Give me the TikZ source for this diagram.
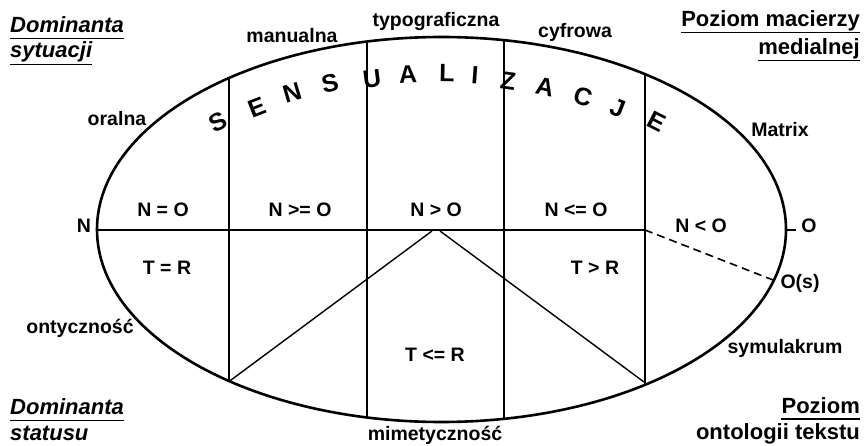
\documentclass[tikz,border=0pt]{standalone}
\usepackage{fontspec}
\setmainfont{Liberation Sans}
\begin{document}
\begin{tikzpicture}[x=1pt,y=-1pt,
  lbl/.style={font=\fontsize{19.5}{22}\selectfont\bfseries, inner sep=0pt, anchor=base},
  corner/.style={font=\fontsize{22}{24}\selectfont\bfseries, inner sep=0pt},
  cornerit/.style={font=\fontsize{22}{24}\selectfont\bfseries\itshape, inner sep=0pt},
  arcletter/.style={font=\fontsize{25}{26}\selectfont\bfseries, inner sep=0pt},
  ulline/.style={line width=1.6pt},
  frame/.style={line width=2.6pt},
  divider/.style={line width=1.6pt},
  diag/.style={line width=1.4pt},
  dashline/.style={line width=1.6pt, dash pattern=on 8pt off 5pt}]
\fill[white] (0,0) rectangle (864,446);
\useasboundingbox (0,0) rectangle (864,446);

% ellipse
\draw[frame] (441.5,229.5) ellipse [x radius=344.5, y radius=192.5];

% coordinates
\coordinate (L) at (97,230);
\coordinate (R) at (786,230);
\coordinate (Rend) at (796,230);
\coordinate (hm) at (645,230);
\coordinate (v1t) at (229,78);   \coordinate (v1b) at (229,381.5);
\coordinate (v2t) at (367,41.6); \coordinate (v2b) at (367,417.4);
\coordinate (v3t) at (504,40.2); \coordinate (v3b) at (504,418.8);
\coordinate (v4t) at (645,74.2); \coordinate (v4b) at (645,384.8);
\coordinate (apL) at (432,231);
\coordinate (apR) at (440,231);
\coordinate (dR) at (644,382);
\coordinate (os) at (773,280);

% dividers
\draw[divider] (v1t) -- (v1b);
\draw[divider] (v2t) -- (v2b);
\draw[divider] (v3t) -- (v3b);
\draw[divider] (v4t) -- (v4b);
\draw[divider] (L) -- (hm);
\draw[divider] (R) -- (Rend);
\draw[diag] (v1b) -- (apL);
\draw[diag] (apR) -- (dR);
\draw[dashline] (hm) -- (os);

% arc letters
\foreach \ch/\px/\py/\rr [count=\i] in {S/218/122/27, E/257/107/21, N/292/93/16.3, S/330/83/12.0, U/372/79/7.2, A/408/74/3.2, L/447/73/-1.1, I/475/75/-4.2, Z/508/81/-7.9, A/545/87/-12.1, C/583/97/-16.5, J/618/108/-21, E/657/122/-27}
  \node[arcletter, rotate=\rr] (let\i) at (\px,\py) {\ch};

% outer labels
\node[lbl] (manu) at (292,43) {manualna};
\node[lbl] (typo) at (436,27) {typograficzna};
\node[lbl] (cyfr) at (575,38) {cyfrowa};
\node[lbl] (oral) at (117,126) {oralna};
\node[lbl] (matr) at (780,137) {Matrix};
\node[lbl] (nleft) at (84,233) {N};
\node[lbl] (oright) at (809,233) {O};
\node[lbl] (osl) at (800,288) {O(s)};
\node[lbl] (onty) at (80,333) {ontyczność};
\node[lbl] (symu) at (785,353) {symulakrum};
\node[lbl] (mime) at (435,440) {mimetyczność};

% inner labels
\node[lbl] (c1) at (163,217) {N = O};
\node[lbl] (c2) at (300,217) {N >= O};
\node[lbl] (c3) at (436,217) {N > O};
\node[lbl] (c4) at (576,217) {N <= O};
\node[lbl] (c5) at (701,233) {N < O};
\node[lbl] (t1) at (167,274) {T = R};
\node[lbl] (t2) at (595,274) {T > R};
\node[lbl] (t3) at (435,361) {T <= R};

% corner labels
\node[cornerit, anchor=base west] (ds1) at (10,33) {Dominanta};
\node[cornerit, anchor=base west] (ds2) at (10,58) {sytuacji};
\draw[ulline] ([yshift=-5.5pt]ds1.base west) -- ([yshift=-5.5pt]ds1.base east);
\draw[ulline] ([yshift=-6.5pt]ds2.base west) -- ([yshift=-6.5pt]ds2.base east);

\node[corner, anchor=base east] (pm1) at (860,27) {Poziom macierzy};
\node[corner, anchor=base east] (pm2) at (860,55) {medialnej};
\draw[ulline] ([yshift=-5.5pt]pm1.base west) -- ([yshift=-5.5pt]pm1.base east);
\draw[ulline] ([yshift=-5.5pt]pm2.base west) -- ([yshift=-5.5pt]pm2.base east);

\node[cornerit, anchor=base west] (dt1) at (10,414) {Dominanta};
\node[cornerit, anchor=base west] (dt2) at (10,440) {statusu};
\draw[ulline] ([yshift=-6.5pt]dt1.base west) -- ([yshift=-6.5pt]dt1.base east);

\node[corner, anchor=base east] (po1) at (860,413) {Poziom};
\node[corner, anchor=base east] (po2) at (860,439) {ontologii tekstu};
\draw[ulline] ([yshift=-6pt]po1.base west) -- ([yshift=-6pt]po1.base east);
\end{tikzpicture}
\end{document}
